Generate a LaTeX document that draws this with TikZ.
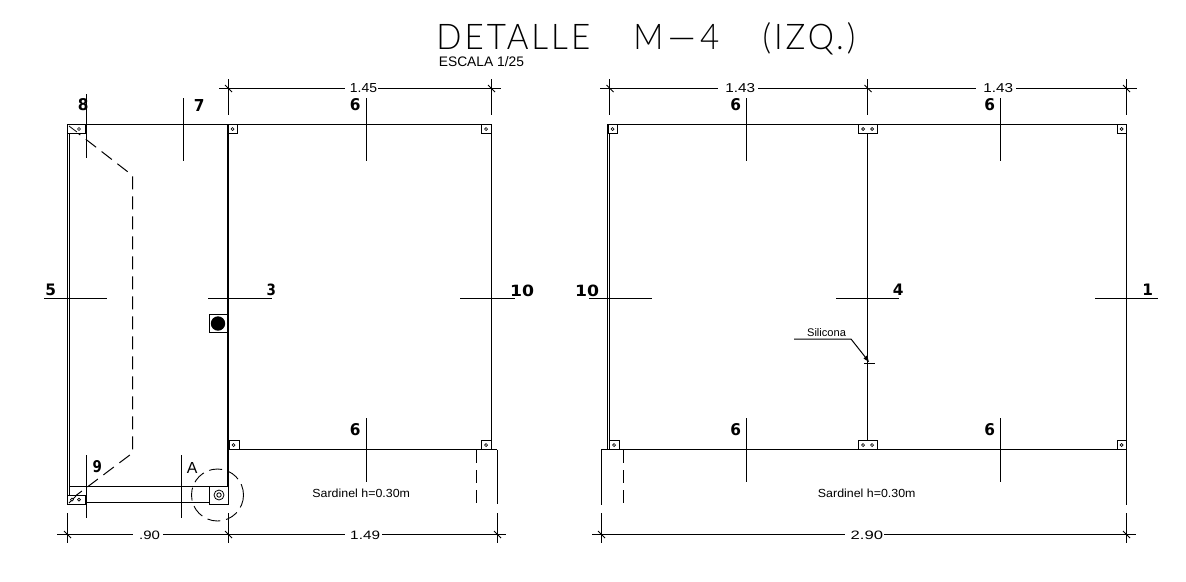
\documentclass[tikz,border=0pt]{standalone}
\usepackage{fontspec}
\setmainfont{Liberation Sans}
\newfontfamily\titlef[LetterSpace=9]{Lato Light}
\newfontfamily\boldf{DejaVu Sans Bold}
\newcommand{\fitbox}[3]{\resizebox{#1pt}{#2pt}{#3}}
\newcommand{\lbl}[7]{\node[txt] (#1) at (#2,#3) {\fitbox{#4}{#5}{#6 #7}};}
\tikzset{
  txt/.style={inner sep=0pt,outer sep=0pt,anchor=center},
  ln/.style={line width=1pt,black},
  thick wall/.style={line width=2.2pt,black},
  dsh/.style={line width=1pt,black,dash pattern=on 13pt off 7pt},
  dcirc/.style={line width=0.9pt,black,dash pattern=on 13pt off 6pt},
  plate/.style={line width=0.9pt,black,fill=white},
  hole/.style={line width=0.7pt,black,fill=white},
}
\begin{document}
\begin{tikzpicture}[x=1pt,y=-1pt]
\useasboundingbox[fill=white] (0,0) rectangle (1186,581);
% ---- left panel
\draw[ln] (67,124.5) -- (491,124.5);
\draw[ln] (67,124.5) -- (67,504);
\draw[ln] (69,133) -- (69,495);
\draw[thick wall] (228,124) -- (228,504);
\draw[ln] (491,124.5) -- (491,449.5);
\draw[ln] (228,449.5) -- (497,449.5);
\draw[ln] (497,449.5) -- (497,504);
\draw[dsh] (476,450) -- (476,505);
\draw[ln] (69,486.5) -- (228,486.5);
\draw[ln] (85,502.5) -- (228,502.5);
% dashed hidden outline
\draw[dsh] (70,127) -- (132.5,175.5) -- (132.5,453) -- (70,500);
% corner plates
\draw[plate] (67,124.5) rectangle (85,133.5);
\draw[plate] (67,495) rectangle (85,504.5);
\draw[line width=.8pt] (69,126) -- (77,132);
\draw[line width=.8pt] (69,503) -- (76,496);
\foreach \p in {(79,129),(72,499.5),(79,499.5)} \draw[hole] \p circle (1.5);
\draw[plate] (228,124.5) rectangle (237,133.5); \draw[hole] (232.5,129) circle (1.5);
\draw[plate] (481.5,124.5) rectangle (491,133.5); \draw[hole] (486,129) circle (1.5);
\draw[plate] (229,440) rectangle (239,449.5); \draw[hole] (233.5,445) circle (1.5);
\draw[plate] (481.5,440) rectangle (491,449.5); \draw[hole] (486,445) circle (1.5);
% column A
\draw[plate] (209.5,486.5) rectangle (228,504);
\draw[line width=.8pt] (219,495) circle (5);
\draw[line width=.8pt] (219,495) circle (2.2);
\draw[dcirc] (217.5,495) circle (26);
% black post
\draw[line width=.9pt] (209.5,314.5) rectangle (227,332.5);
\fill[black] (218,323.5) circle (7.2);
% ---- right panel
\draw[ln] (607,124.5) -- (1126,124.5);
\draw[ln] (607,124.5) -- (607,449.5);
\draw[ln] (609,124.5) -- (609,449.5);
\draw[ln] (867.5,124.5) -- (867.5,449.5);
\draw[ln] (1126,124.5) -- (1126,504.5);
\draw[ln] (601,449.5) -- (1126,449.5);
\draw[ln] (601,449.5) -- (601,504.5);
\draw[dsh] (623.5,450) -- (623.5,505);
\draw[plate] (608,124.5) rectangle (617,133.5); \draw[hole] (612.5,129) circle (1.5);
\draw[plate] (858.5,124.5) rectangle (877,133.5); \draw[hole] (863,129) circle (1.5); \draw[hole] (872,129) circle (1.5);
\draw[plate] (1117,124.5) rectangle (1126,133.5); \draw[hole] (1121.5,129) circle (1.5);
\draw[plate] (609.5,440) rectangle (619,449.5); \draw[hole] (614,445) circle (1.5);
\draw[plate] (858.5,440) rectangle (877,449.5); \draw[hole] (863,445) circle (1.5); \draw[hole] (872,445) circle (1.5);
\draw[plate] (1117,440) rectangle (1126,449.5); \draw[hole] (1121.5,445) circle (1.5);
% ---- section marks: vertical
\foreach \x/\a/\b in {86/94/158,183/98/161,366/98/161,746/98/161,1000/98/161,366/418/482,746/418/482,1000/418/482,86/455/518,181/455/518}
  \draw[ln] (\x,\a) -- (\x,\b);
% ---- section marks: horizontal
\foreach \a/\b in {44/107,208/272,460/515,589/652,836/899,1095/1158}
  \draw[ln] (\a,298.5) -- (\b,298.5);
% ---- dimensions
\foreach \x in {228,491,609.5,867.5,1126} {
  \draw[ln] (\x,79) -- (\x,115);
  \draw[line width=.8pt] (\x-3,85) -- (\x+4,92);
}
\draw[ln] (219,88) -- (345,88);
\draw[ln] (378,88) -- (501,88);
\draw[ln] (600,88) -- (718,88);
\draw[ln] (758,88) -- (976,88);
\draw[ln] (1016,88) -- (1137,88);
\foreach \x in {67,228,497,601,1126} {
  \draw[ln] (\x,513) -- (\x,543);
  \draw[line width=.8pt] (\x-3,531) -- (\x+4,538);
}
\draw[ln] (57,534) -- (133,534);
\draw[ln] (163,534) -- (345,534);
\draw[ln] (382,534) -- (506,534);
\draw[ln] (592,534) -- (845,534);
\draw[ln] (884,534) -- (1136,534);
% ---- silicona leader
\draw[ln] (794,339) -- (851,339) -- (866,358);
\fill[black] (869,362) -- (863.5,358.5) -- (867,355.5) -- cycle;
\draw[ln] (864,363.5) -- (875,363.5);
% ---- texts
\node[txt] (title) at (646,39) {\fitbox{419}{27}{\titlef DETALLE\hspace{1.3em}M\scalebox{3}[1]{-}4\hspace{1.3em}(IZQ.)}};
\lbl{escala}{479.5}{62}{89}{10}{}{ESCALA 1/25}
\lbl{d145}{361.5}{88.5}{31}{9}{}{1.45}
\lbl{d143a}{738}{88.5}{34}{9}{}{1.43}
\lbl{d143b}{996}{88.5}{34}{9}{}{1.43}
\lbl{d90}{147.5}{535}{25}{8.5}{}{.90}
\lbl{d149}{363}{535}{34}{8.5}{}{1.49}
\lbl{d290}{864.5}{535}{37}{8.5}{}{2.90}
\lbl{sar1}{359.5}{493}{101}{8.5}{}{Sardinel h=0.30m}
\lbl{sar2}{865}{493}{101}{8.5}{}{Sardinel h=0.30m}
\lbl{sil}{825}{333}{42}{8}{}{Silicona}
\lbl{n8}{80.5}{105}{16}{12}{\boldf}{8}
\lbl{n7}{196.5}{105}{16}{12}{\boldf}{7}
\lbl{n6a}{352.5}{105}{16}{12}{\boldf}{6}
\lbl{n6b}{733}{105}{16}{12}{\boldf}{6}
\lbl{n6c}{987}{105}{16}{12}{\boldf}{6}
\lbl{n6d}{352.5}{430}{16}{12}{\boldf}{6}
\lbl{n6e}{733}{430}{16}{12}{\boldf}{6}
\lbl{n6f}{987}{430}{16}{12}{\boldf}{6}
\lbl{n9}{95}{466.5}{14}{12}{\boldf}{9}
\lbl{nA}{190}{467.5}{15}{11}{}{A}
\lbl{n5}{48}{290}{16}{11.5}{\boldf}{5}
\lbl{n3}{269}{290}{14}{11.5}{\boldf}{3}
\lbl{n10a}{519}{290.5}{30}{11.5}{\boldf}{10}
\lbl{n10b}{584}{290.5}{30}{11.5}{\boldf}{10}
\lbl{n4}{895.5}{289.5}{16}{11.5}{\boldf}{4}
\lbl{n1}{1145}{290}{16}{11.5}{\boldf}{1}
\end{tikzpicture}
\end{document}
